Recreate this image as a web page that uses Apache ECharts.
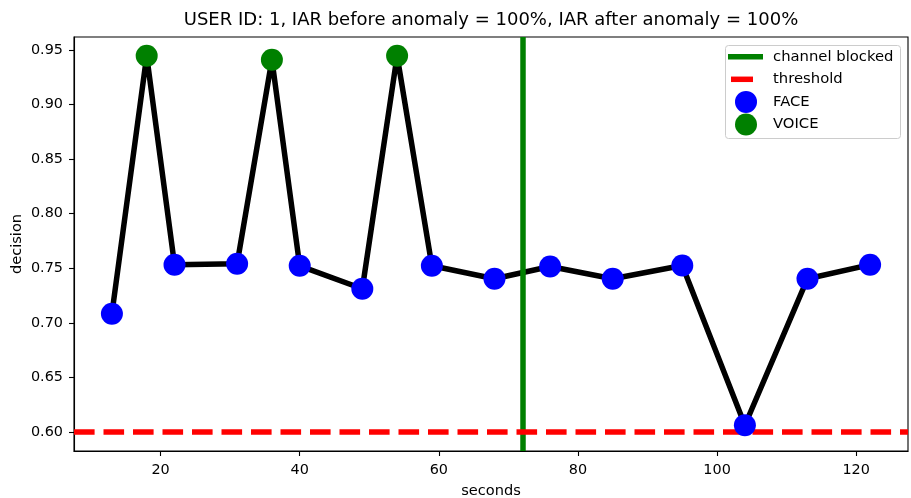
<!DOCTYPE html>
<html>
<head>
<meta charset="utf-8">
<script src="https://cdn.jsdelivr.net/npm/echarts@6/dist/echarts.min.js"></script>
<style>
html,body{margin:0;padding:0;background:#fff;}
#chart{width:911px;height:498px;}
</style>
</head>
<body>
<div id="chart"></div>
<script>
// ---- data ----
const seconds  = [13, 18, 22, 31, 36, 40, 49, 54, 59, 68, 76, 85, 95, 104, 113, 122];
const decision = [0.7085, 0.9445, 0.7533, 0.7542, 0.9409, 0.7523, 0.7313, 0.9445, 0.7523, 0.7405, 0.7517, 0.7405, 0.7526, 0.6064, 0.7405, 0.7533];
const modality = ['FACE','VOICE','FACE','FACE','VOICE','FACE','FACE','VOICE','FACE','FACE','FACE','FACE','FACE','FACE','FACE','FACE'];
const thresholdValue = 0.6;
const channelBlockedAt = 72;
const xTicks = [20, 40, 60, 80, 100, 120];
const yTicks = [0.60, 0.65, 0.70, 0.75, 0.80, 0.85, 0.90, 0.95];
const xRange = [7.55, 127.45];
const yRange = [0.5828, 0.9617];
const titleText = 'USER ID: 1, IAR before anomaly = 100%, IAR after anomaly = 100%';
const legendLabels = ['channel blocked', 'threshold', 'FACE', 'VOICE'];

const linePts = seconds.map((s, i) => [s, decision[i]]);
const facePts = seconds.map((s, i) => [s, decision[i], modality[i]]).filter(p => p[2] === 'FACE').map(p => [p[0], p[1]]);
const voicePts = seconds.map((s, i) => [s, decision[i], modality[i]]).filter(p => p[2] === 'VOICE').map(p => [p[0], p[1]]);

const FONT = 'DejaVu Sans';
const FS = 14.4;
const chart = echarts.init(document.getElementById('chart'), null, {renderer: 'canvas'});

// legend rows
const lx = 725, ly = 45, lw = 175, lh = 93;
const rowY = [56.7, 79.3, 101.9, 124.5];
const legendGraphics = [
  {type: 'rect', shape: {x: lx + 0.5, y: ly + 0.5, width: lw, height: lh, r: 3},
   style: {fill: 'rgba(255,255,255,0.8)', stroke: '#cccccc', lineWidth: 1}, z: 100},
  {type: 'line', shape: {x1: 728, y1: rowY[0], x2: 763, y2: rowY[0]},
   style: {stroke: '#008000', lineWidth: 5.5}, z: 101},
  {type: 'line', shape: {x1: 731, y1: rowY[1], x2: 753, y2: rowY[1]},
   style: {stroke: '#ff0000', lineWidth: 5.5}, z: 101},
  {type: 'circle', shape: {cx: 746, cy: rowY[2], r: 11}, style: {fill: '#0000ff'}, z: 101},
  {type: 'circle', shape: {cx: 746, cy: rowY[3], r: 11}, style: {fill: '#008000'}, z: 101}
];
legendLabels.forEach((t, i) => {
  legendGraphics.push({type: 'text', x: 773, y: rowY[i], z: 101,
    style: {text: t, fill: '#000', font: '14.8px "' + FONT + '"', textVerticalAlign: 'middle', textAlign: 'left'}});
});

const option = {
  animation: false,
  backgroundColor: '#ffffff',
  textStyle: {fontFamily: FONT},
  title: {
    text: titleText, left: 491, top: 11, textAlign: 'center', padding: 0,
    textStyle: {fontFamily: FONT, fontSize: 18, fontWeight: 'normal', color: '#000'}
  },
  grid: {left: 74, right: 3, top: 37, bottom: 47, containLabel: false, outerBoundsMode: 'none',
    show: true, borderColor: '#000', borderWidth: 1.1, backgroundColor: 'transparent'},
  xAxis: {
    type: 'value', min: xRange[0], max: xRange[1],
    name: 'seconds', nameLocation: 'middle', nameGap: 33,
    nameTextStyle: {fontFamily: FONT, fontSize: 14.6, color: '#000'},
    axisLine: {show: true, onZero: false, lineStyle: {color: '#000', width: 1.1}},
    axisTick: {show: true, length: 5, customValues: xTicks, lineStyle: {color: '#000', width: 1.1}},
    axisLabel: {margin: 12, customValues: xTicks, fontFamily: FONT, fontSize: FS, color: '#000'},
    splitLine: {show: false}
  },
  yAxis: {
    type: 'value', min: yRange[0], max: yRange[1],
    name: 'decision', nameLocation: 'middle', nameGap: 49, nameMoveOverlap: false,
    nameTextStyle: {fontFamily: FONT, fontSize: 14.6, color: '#000'},
    axisLine: {show: true, onZero: false, lineStyle: {color: '#000', width: 1.1}},
    axisTick: {show: true, length: 5, customValues: yTicks, lineStyle: {color: '#000', width: 1.1}},
    axisLabel: {margin: 11, customValues: yTicks, fontFamily: FONT, fontSize: FS, color: '#000',
      formatter: v => Number(v).toFixed(2)},
    splitLine: {show: false}
  },
  series: [
    {
      name: 'decision', type: 'line', data: linePts, z: 1, symbol: 'none', silent: true,
      lineStyle: {color: '#000', width: 5.5, cap: 'square', join: 'round'}
    },
    {
      name: 'channel blocked', type: 'line', data: [], z: 2, silent: true,
      markLine: {
        silent: true, symbol: ['none', 'none'], z: 2, label: {show: false}, animation: false,
        lineStyle: {color: '#008000', width: 5.5, type: 'solid'},
        data: [{xAxis: channelBlockedAt}]
      }
    },
    {
      name: 'threshold', type: 'line', data: [], z: 3, silent: true,
      markLine: {
        silent: true, symbol: ['none', 'none'], z: 3, label: {show: false}, animation: false,
        lineStyle: {color: '#ff0000', width: 5.5, type: [20.6, 8.9], cap: 'butt'},
        data: [{yAxis: thresholdValue}]
      }
    },
    {
      name: 'FACE', type: 'scatter', data: facePts, z: 4, symbol: 'circle', symbolSize: 22,
      itemStyle: {color: '#0000ff', opacity: 1}
    },
    {
      name: 'VOICE', type: 'scatter', data: voicePts, z: 4, symbol: 'circle', symbolSize: 22,
      itemStyle: {color: '#008000', opacity: 1}
    }
  ],
  graphic: legendGraphics
};
chart.setOption(option);
</script>
</body>
</html>
